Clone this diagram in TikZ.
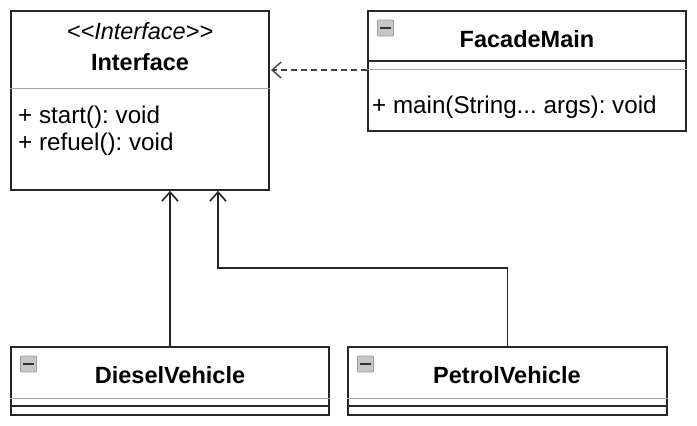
\documentclass[tikz,border=0pt]{standalone}
\usepackage{fontspec}
\setmainfont{Liberation Sans}
\usetikzlibrary{arrows.meta}
\begin{document}
\frenchspacing
\begin{tikzpicture}[x=1pt,y=-1pt,
  box/.style={draw=black!85, line width=1.7pt, fill=white, rectangle, inner sep=0pt},
  sepgray/.style={draw=gray!70, line width=1.2pt},
  sepdark/.style={draw=black!85, line width=1.5pt},
  txt/.style={font=\fontsize{23.5}{28}\selectfont, inner sep=0pt},
  rtxt/.style={font=\fontsize{24.2}{28}\selectfont, inner sep=0pt},
  icon/.style={draw=gray!75, fill=gray!45, line width=0.8pt, minimum width=16pt, minimum height=16pt, inner sep=0pt, rounded corners=1pt},
  inh/.style={draw=black!85, line width=1.6pt, -{Straight Barb[length=9pt,width=16pt,line width=1.6pt]}},
  dep/.style={draw=black!75, line width=1.2pt, dash pattern=on 6pt off 4pt, -{Straight Barb[length=9pt,width=16pt,line width=1.4pt,sep]}}
]
\useasboundingbox (0,0) rectangle (697,426);

% Interface box
\node[box, minimum width=258pt, minimum height=179pt] (iface) at (140,100.5) {};
\draw[sepgray] ([yshift=-78pt]iface.north west) -- ([yshift=-78pt]iface.north east);
\node[txt, anchor=base] (istereo) at (140,39) {\textit{<\kern0pt<Interface>\kern0pt>}};
\node[txt, anchor=base] (iname) at (140,70) {\textbf{Interface}};
\node[rtxt, anchor=base west] (im1) at (18,123) {+ start(): void};
\node[rtxt, anchor=base west] (im2) at (18,150) {+ refuel(): void};

% FacadeMain box
\node[box, minimum width=318pt, minimum height=120pt] (facade) at (527,71) {};
\draw[sepdark] ([yshift=-51pt]facade.north west) -- ([yshift=-51pt]facade.north east);
\draw[sepgray] ([yshift=-59pt]facade.north west) -- ([yshift=-59pt]facade.north east);
\node[icon] (ficon) at (385.5,28) {};
\draw[black!80, line width=2pt] ([xshift=-5.5pt]ficon.center) -- ([xshift=5.5pt]ficon.center);
\node[txt, anchor=base] (fname) at (527,47) {\textbf{FacadeMain}};
\node[rtxt, anchor=base west] (fm1) at (372,113) {+ main(String... args): void};

% DieselVehicle box
\node[box, minimum width=318pt, minimum height=68pt] (diesel) at (170,381) {};
\draw[sepgray] ([yshift=-52pt]diesel.north west) -- ([yshift=-52pt]diesel.north east);
\draw[sepdark] ([yshift=-60pt]diesel.north west) -- ([yshift=-60pt]diesel.north east);
\node[icon] (dicon) at (28.5,364) {};
\draw[black!80, line width=2pt] ([xshift=-5.5pt]dicon.center) -- ([xshift=5.5pt]dicon.center);
\node[txt, anchor=base] (dname) at (170,383) {\textbf{DieselVehicle}};

% PetrolVehicle box
\node[box, minimum width=319pt, minimum height=68pt] (petrol) at (507.5,381) {};
\draw[sepgray] ([yshift=-52pt]petrol.north west) -- ([yshift=-52pt]petrol.north east);
\draw[sepdark] ([yshift=-60pt]petrol.north west) -- ([yshift=-60pt]petrol.north east);
\node[icon] (picon) at (365.5,364) {};
\draw[black!80, line width=2pt] ([xshift=-5.5pt]picon.center) -- ([xshift=5.5pt]picon.center);
\node[txt, anchor=base] (pname) at (507,383) {\textbf{PetrolVehicle}};

% connectors
\draw[dep] ([yshift=1pt]facade.west) -- ([yshift=1pt]facade.west -| iface.east);
\draw[inh] (diesel.north) -- (diesel.north |- iface.south);
\draw[inh] (petrol.north) -- ++(0,-78) -| ([xshift=78pt]iface.south);
\end{tikzpicture}
\end{document}
